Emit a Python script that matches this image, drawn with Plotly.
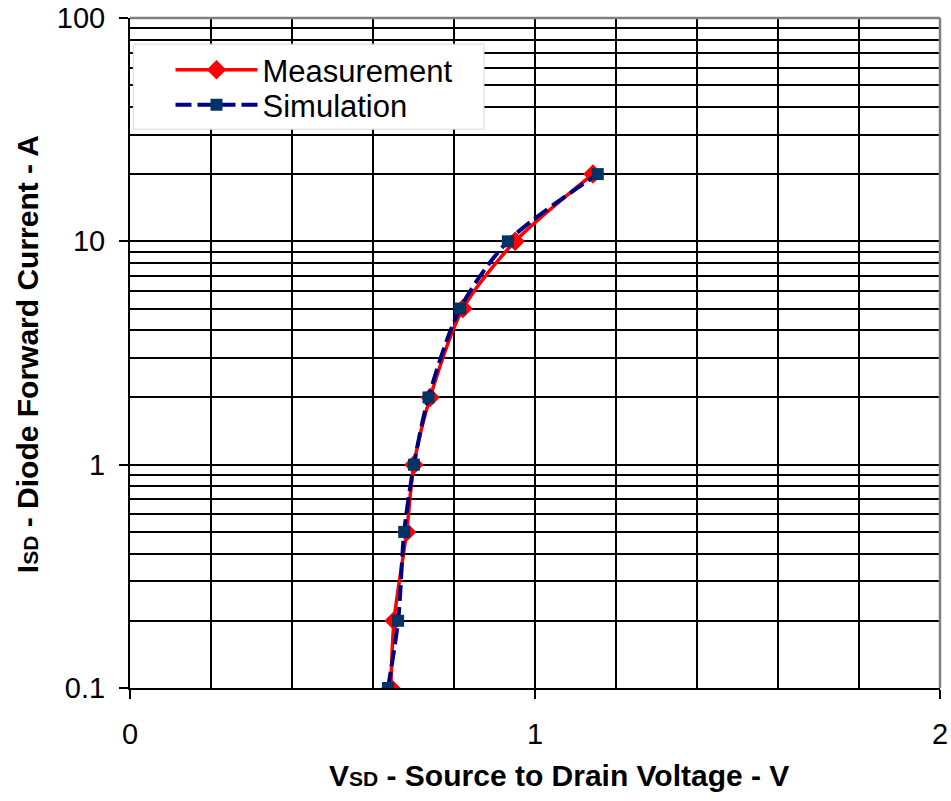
import plotly.graph_objects as go

# Data
meas_v = [0.644, 0.652, 0.683, 0.701, 0.741, 0.822, 0.951, 1.143]
meas_i = [0.1, 0.2, 0.5, 1, 2, 5, 10, 20]
sim_v = [0.637, 0.662, 0.677, 0.701, 0.737, 0.815, 0.933, 1.155]
sim_i = [0.1, 0.2, 0.5, 1, 2, 5, 10, 20]

x_tickvals = [0, 1, 2]
y_tickvals = [0.1, 1, 10, 100]
y_ticktext = ["0.1", "1", "10", "100"]
y_minor = [m * d for d in (0.1, 1, 10) for m in range(2, 10)]

FONT = "Arial, Liberation Sans, sans-serif"

fig = go.Figure()
fig.add_trace(go.Scatter(
    x=meas_v, y=meas_i, name="Measurement", mode="lines+markers",
    line=dict(color="#FF0000", width=3.5, shape="spline", smoothing=0.8),
    marker=dict(symbol="diamond", size=15, color="#FF0000"),
    legend="legend",
))
fig.add_trace(go.Scatter(
    x=sim_v, y=sim_i, name="Simulation", mode="lines+markers",
    line=dict(color="#000080", width=4, dash="16px,6px", shape="spline", smoothing=0.8),
    marker=dict(symbol="square", size=12, color="#003366"),
    legend="legend2",
))

legend_common = dict(
    xanchor="left", yanchor="middle",
    bgcolor="rgba(0,0,0,0)", borderwidth=0,
    font=dict(size=31, family=FONT), itemwidth=82,
)

fig.update_layout(
    width=951, height=801,
    margin=dict(l=130, r=11, t=18, b=113),
    paper_bgcolor="white", plot_bgcolor="white",
    font=dict(family=FONT, size=29, color="black"),
    showlegend=True,
    legend=dict(x=0.05, y=0.9224, **legend_common),
    legend2=dict(x=0.05, y=0.870, **legend_common),
    xaxis=dict(
        range=[0, 2], tickvals=x_tickvals, ticks="outside", ticklen=9,
        tickwidth=1.5, tickcolor="black", showline=True, linecolor="black",
        linewidth=2, showgrid=True, gridcolor="black", gridwidth=1.5,
        zeroline=False, ticklabelstandoff=10, automargin=False,
        ticklabeloverflow="allow",
        minor=dict(dtick=0.2, showgrid=True, gridcolor="black", gridwidth=1.5, ticks=""),
    ),
    yaxis=dict(
        type="log", range=[-1, 2], tickvals=y_tickvals, ticktext=y_ticktext,
        ticks="outside", ticklen=9, tickwidth=1.5, tickcolor="black",
        showline=True, linecolor="black", linewidth=2,
        showgrid=True, gridcolor="black", gridwidth=1.5, zeroline=False,
        ticklabelstandoff=8, automargin=False, ticklabeloverflow="allow",
        minor=dict(tickvals=y_minor, showgrid=True, gridcolor="black", gridwidth=1.5, ticks=""),
    ),
    shapes=[
        # legend box
        dict(type="rect", xref="paper", yref="paper", x0=0.004, x1=0.437, y0=0.834, y1=0.961,
             fillcolor="white", line=dict(color="#d9d9d9", width=1), layer="above"),
        # gray top/right border
        dict(type="line", xref="paper", yref="paper", x0=0, x1=1, y0=1, y1=1,
             line=dict(color="#808080", width=2.5), layer="above"),
        dict(type="line", xref="paper", yref="paper", x0=1, x1=1, y0=0, y1=1,
             line=dict(color="#808080", width=2.5), layer="above"),
    ],
    annotations=[
        dict(text="<b>V<span style='font-size:21px'>SD</span> - Source to Drain Voltage - V</b>",
             xref="paper", yref="paper", x=0.53, y=-0.13, xanchor="center", yanchor="middle",
             showarrow=False, font=dict(size=30, family=FONT)),
        dict(text="<b>I<span style='font-size:21px'>SD</span> - Diode Forward Current - A</b>",
             xref="paper", yref="paper", x=-0.127, y=0.4985, xanchor="center", yanchor="middle",
             textangle=-90, showarrow=False, font=dict(size=30, family=FONT)),
    ],
)

fig.write_html("out.html", config={"displayModeBar": False})

# Remove the browser's default 8px body margin so the figure sits at the page origin.
with open("out.html", "r", encoding="utf-8") as f:
    html = f.read()
html = html.replace("<body>", '<body style="margin:0;overflow:hidden">', 1)
with open("out.html", "w", encoding="utf-8") as f:
    f.write(html)
